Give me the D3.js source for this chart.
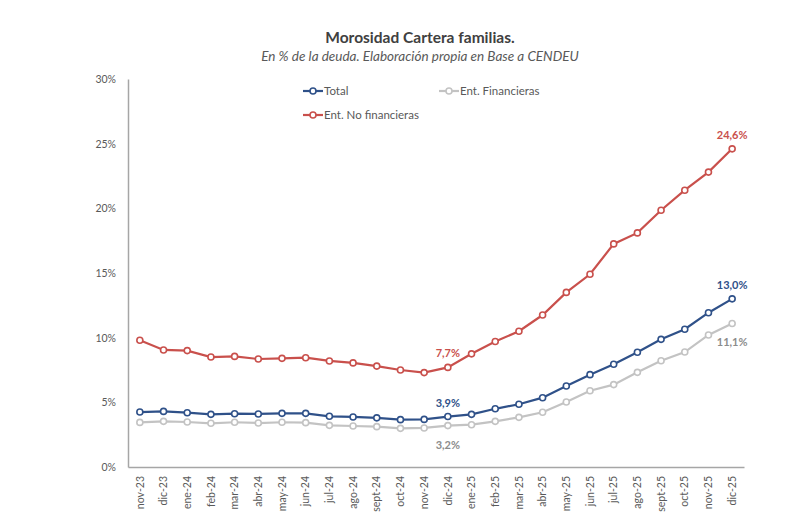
<!DOCTYPE html>
<html>
<head>
<meta charset="utf-8">
<script src="https://cdn.jsdelivr.net/npm/d3@7"></script>
<style>
  body { margin: 0; background: #fff; }
  svg text { font-family: Lato, "Open Sans", sans-serif; }
</style>
</head>
<body>
<svg id="chart" width="800" height="526"></svg>
<script>
// months on the x axis
const months = ['nov-23','dic-23','ene-24','feb-24','mar-24','abr-24','may-24','jun-24','jul-24','ago-24','sept-24','oct-24','nov-24','dic-24',
  'ene-25','feb-25','mar-25','abr-25','may-25','jun-25','jul-25','ago-25','sept-25','oct-25','nov-25','dic-25'];

// series values, % of debt
const total = [4.25, 4.3, 4.2, 4.07, 4.12, 4.1, 4.15, 4.15, 3.92, 3.87, 3.8, 3.66, 3.68, 3.9,
  4.07, 4.5, 4.85, 5.36, 6.26, 7.14, 7.94, 8.87, 9.87, 10.65, 11.93, 13.0];
const financieras = [3.45, 3.53, 3.48, 3.38, 3.46, 3.4, 3.46, 3.43, 3.22, 3.17, 3.12, 2.99, 3.02, 3.2,
  3.27, 3.53, 3.84, 4.23, 5.03, 5.9, 6.37, 7.32, 8.22, 8.89, 10.21, 11.1];
const noFinancieras = [9.8, 9.05, 9.0, 8.5, 8.55, 8.35, 8.4, 8.45, 8.2, 8.05, 7.8, 7.5, 7.3, 7.7,
  8.75, 9.7, 10.5, 11.75, 13.5, 14.9, 17.25, 18.1, 19.85, 21.4, 22.8, 24.6];

const yTicks = [0, 5, 10, 15, 20, 25, 30];
const labelled = ['dic-24', 'dic-25'];

let svg = d3.select('#chart');

let x = d3.scaleBand().domain(months).range([128, 744]);
let y = d3.scaleLinear().domain([0, 30]).range([467, 79]);
let cx = function(d, i) { return x(months[i]) + x.bandwidth() / 2; };

// title
svg.append('text')
  .attr('x', 420).attr('y', 43)
  .attr('text-anchor', 'middle')
  .style('font-size', '15.5px').style('font-weight', 'bold').style('fill', '#404040')
  .text('Morosidad Cartera familias.');
svg.append('text')
  .attr('x', 420).attr('y', 61)
  .attr('text-anchor', 'middle')
  .style('font-size', '13.5px').style('font-style', 'italic').style('fill', '#595959')
  .text('En % de la deuda. Elaboración propia en Base a CENDEU');

// y axis
let yAxis = svg.append('g').attr('transform', 'translate(128,0)')
  .call(d3.axisLeft(y).tickValues(yTicks).tickSize(0).tickPadding(12).tickFormat(d => d + '%'));
yAxis.select('.domain').attr('stroke', '#a6a6a6').attr('stroke-width', 1.5);
yAxis.selectAll('text').style('font-size', '10.5px').style('fill', '#595959');

// x axis
let xAxis = svg.append('g').attr('transform', 'translate(0,467)')
  .call(d3.axisBottom(x).tickSize(0).tickPadding(0));
xAxis.select('.domain').attr('stroke', '#a6a6a6').attr('stroke-width', 1.5);
xAxis.selectAll('text')
  .style('font-size', '10.5px').style('fill', '#595959')
  .attr('text-anchor', 'end')
  .attr('dy', '0.35em')
  .attr('transform', 'translate(0,9) rotate(-90)')
  .attr('x', 0).attr('y', 0);

const series = [
  { name: 'Ent. Financieras', values: financieras, color: '#c3c3c3', label: '#8c8c8c', pos: 'below' },
  { name: 'Total', values: total, color: '#2f5189', label: '#2f5189', pos: 'above' },
  { name: 'Ent. No financieras', values: noFinancieras, color: '#c9504c', label: '#c9504c', pos: 'above' }
];

let line = d3.line().x(cx).y(d => y(d));

series.forEach(function(s) {
  let g = svg.append('g');
  g.append('path').datum(s.values)
    .attr('d', line).attr('fill', 'none')
    .attr('stroke', s.color).attr('stroke-width', 2.2);
  g.selectAll('circle').data(s.values).enter().append('circle')
    .attr('cx', cx).attr('cy', d => y(d)).attr('r', 3)
    .attr('fill', '#fff').attr('stroke', s.color).attr('stroke-width', 1.6);
  g.selectAll('text').data(s.values.map((v, i) => ({ v: v, i: i })).filter(d => labelled.includes(months[d.i])))
    .enter().append('text')
    .attr('x', d => cx(d.v, d.i))
    .attr('y', d => y(d.v) + (s.pos === 'above' ? -10 : 23))
    .attr('text-anchor', 'middle')
    .style('font-size', '11px').style('font-weight', 'bold').style('fill', s.label)
    .text(d => d.v.toFixed(1).replace('.', ',') + '%');
});

// legend
const legend = [
  { name: 'Total', color: '#2f5189', x: 303, y: 91 },
  { name: 'Ent. Financieras', color: '#c3c3c3', x: 439, y: 91 },
  { name: 'Ent. No financieras', color: '#c9504c', x: 303, y: 115 }
];
let lg = svg.append('g').selectAll('g').data(legend).enter().append('g')
  .attr('transform', d => 'translate(' + d.x + ',' + d.y + ')');
lg.append('line').attr('x1', 0).attr('x2', 20)
  .attr('stroke', d => d.color).attr('stroke-width', 2.2);
lg.append('circle').attr('cx', 10).attr('r', 3)
  .attr('fill', '#fff').attr('stroke', d => d.color).attr('stroke-width', 1.6);
lg.append('text').attr('x', 21).attr('dy', '0.35em')
  .style('font-size', '11.5px').style('fill', '#595959')
  .text(d => d.name);
</script>
</body>
</html>
